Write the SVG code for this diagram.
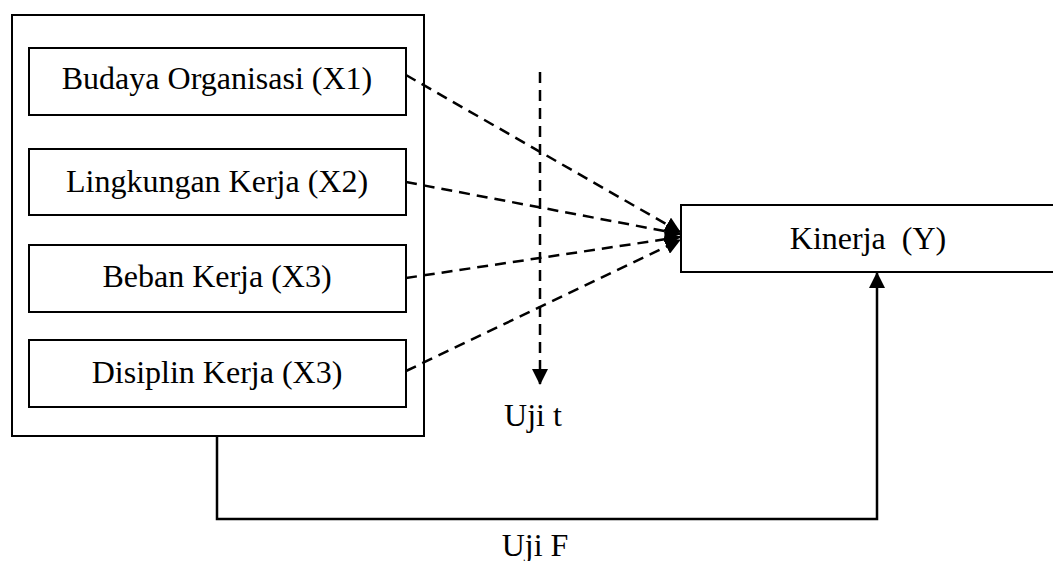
<svg xmlns="http://www.w3.org/2000/svg" width="1053" height="561" viewBox="0 0 1053 561">
<style>
.box{fill:#fff;stroke:#000;stroke-width:2}
.lbl{font-family:"Liberation Serif","Times New Roman",serif;font-size:32px;fill:#000;text-anchor:middle}
.dash{fill:none;stroke:#000;stroke-width:2.5;stroke-dasharray:11 7}
.solid{fill:none;stroke:#000;stroke-width:2.5}
</style>
<defs>
<marker id="ah" markerUnits="userSpaceOnUse" markerWidth="16" markerHeight="16" viewBox="0 0 16 16" refX="15" refY="8" orient="auto">
<path d="M0,0 L16,8 L0,16 Z" fill="#000"/>
</marker>
</defs>
<rect width="1053" height="561" fill="#fff"/>
<g id="group-x">
<rect class="box" x="12" y="15" width="412" height="421"/>
</g>
<g id="x1">
<rect class="box" x="29" y="48" width="377" height="67"/>
<text class="lbl" x="217" y="89">Budaya Organisasi (X1)</text>
</g>
<g id="x2">
<rect class="box" x="29" y="149" width="377" height="66"/>
<text class="lbl" x="217" y="192">Lingkungan Kerja (X2)</text>
</g>
<g id="x3">
<rect class="box" x="29" y="245" width="377" height="67"/>
<text class="lbl" x="217" y="287">Beban Kerja (X3)</text>
</g>
<g id="x4">
<rect class="box" x="29" y="340" width="377" height="67"/>
<text class="lbl" x="217" y="383">Disiplin Kerja (X3)</text>
</g>
<g id="y">
<rect class="box" x="681" y="205" width="380" height="67"/>
<text class="lbl" x="868" y="249" xml:space="preserve">Kinerja  (Y)</text>
</g>
<g id="connectors">
<line class="dash" x1="406" y1="75" x2="680" y2="232" marker-end="url(#ah)"/>
<line class="dash" x1="406" y1="182" x2="680" y2="234" marker-end="url(#ah)"/>
<line class="dash" x1="406" y1="278" x2="680" y2="237" marker-end="url(#ah)"/>
<line class="dash" x1="406" y1="371" x2="680" y2="240" marker-end="url(#ah)"/>
<line class="dash" x1="540" y1="72" x2="540" y2="384" marker-end="url(#ah)"/>
<polyline class="solid" points="217,436 217,519 877,519 877,273" marker-end="url(#ah)"/>
</g>
<g id="labels">
<text class="lbl" x="533" y="426">Uji t</text>
<text class="lbl" x="535" y="556">Uji F</text>
</g>
</svg>
